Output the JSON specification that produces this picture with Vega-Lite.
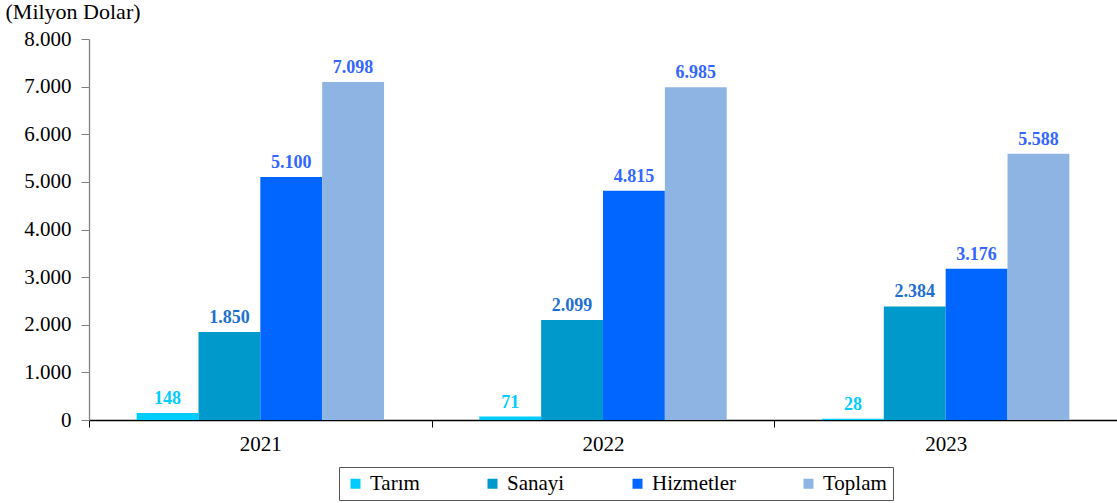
{
  "$schema": "https://vega.github.io/schema/vega-lite/v6.json",
  "width": 1028,
  "height": 381,
  "autosize": "none",
  "padding": {"left": 89, "top": 39, "right": 0, "bottom": 83},
  "background": "white",
  "config": {
    "locale": {"number": {"decimal": ",", "thousands": ".", "grouping": [3], "currency": ["", ""]}},
    "view": {"stroke": null},
    "font": "Liberation Serif",
    "axis": {"labelFont": "Liberation Serif", "titleFont": "Liberation Serif"},
    "legend": {"labelFont": "Liberation Serif", "titleFont": "Liberation Serif"},
    "text": {"font": "Liberation Serif"}
  },
  "data": {
    "values": [
      {"year": "2021", "cat": "Tarım", "value": 148},
      {"year": "2021", "cat": "Sanayi", "value": 1850},
      {"year": "2021", "cat": "Hizmetler", "value": 5100},
      {"year": "2021", "cat": "Toplam", "value": 7098},
      {"year": "2022", "cat": "Tarım", "value": 71},
      {"year": "2022", "cat": "Sanayi", "value": 2099},
      {"year": "2022", "cat": "Hizmetler", "value": 4815},
      {"year": "2022", "cat": "Toplam", "value": 6985},
      {"year": "2023", "cat": "Tarım", "value": 28},
      {"year": "2023", "cat": "Sanayi", "value": 2384},
      {"year": "2023", "cat": "Hizmetler", "value": 3176},
      {"year": "2023", "cat": "Toplam", "value": 5588}
    ]
  },
  "encoding": {
    "x": {
      "field": "year", "type": "nominal",
      "scale": {"paddingInner": 0, "paddingOuter": 0},
      "axis": {
        "title": null, "labelAngle": 0, "labelFont": "Liberation Serif", "labelFontSize": 21,
        "labelColor": "black", "labelPadding": 6, "tickBand": "extent", "tickSize": 7,
        "tickColor": "black", "domainColor": "black", "domainWidth": 1.3, "grid": false
      }
    },
    "xOffset": {
      "field": "cat", "type": "nominal",
      "sort": ["Tarım", "Sanayi", "Hizmetler", "Toplam"],
      "scale": {"paddingInner": 0, "paddingOuter": 0.77}
    },
    "y": {
      "field": "value", "type": "quantitative",
      "scale": {"domain": [0, 8000], "nice": false},
      "axis": {
        "title": "(Milyon Dolar)", "titleAngle": 0, "titleAlign": "left", "titleBaseline": "middle",
        "titleX": -84, "titleY": -28, "titleFont": "Liberation Serif", "titleFontSize": 22,
        "titleFontWeight": "normal", "titleColor": "black",
        "values": [0, 1000, 2000, 3000, 4000, 5000, 6000, 7000, 8000],
        "format": ",d", "labelFont": "Liberation Serif", "labelFontSize": 21, "labelColor": "black",
        "labelPadding": 10, "tickSize": 8, "tickColor": "#808080", "domainColor": "#808080",
        "domainWidth": 1.3, "grid": false
      }
    }
  },
  "layer": [
    {
      "mark": {"type": "bar"},
      "encoding": {
        "color": {
          "field": "cat", "type": "nominal",
          "sort": ["Tarım", "Sanayi", "Hizmetler", "Toplam"],
          "scale": {"domain": ["Tarım", "Sanayi", "Hizmetler", "Toplam"], "range": ["#00CCFF", "#0099CC", "#0066FF", "#8EB4E3"]},
          "legend": {
            "title": null,
            "orient": "none", "direction": "horizontal",
            "legendX": 250, "legendY": 428,
            "symbolType": "square", "symbolSize": 100, "symbolStrokeWidth": 0,
            "labelFont": "Liberation Serif", "labelFontSize": 21, "labelColor": "black",
            "labelOffset": 4, "columnPadding": 62,
            "strokeColor": "#555555", "padding": 6, "fillColor": "white"
          }
        }
      }
    },
    {
      "mark": {"type": "text", "dy": -14, "fontWeight": "bold", "fontSize": 18, "font": "Liberation Serif"},
      "encoding": {
        "text": {"field": "value", "type": "quantitative", "format": ",d"},
        "color": {
          "field": "cat", "type": "nominal",
          "scale": {"domain": ["Tarım", "Sanayi", "Hizmetler", "Toplam"], "range": ["#00CCFF", "#1F6FD2", "#3366FF", "#3366FF"]},
          "legend": null
        }
      }
    }
  ],
  "resolve": {"scale": {"color": "independent"}}
}
